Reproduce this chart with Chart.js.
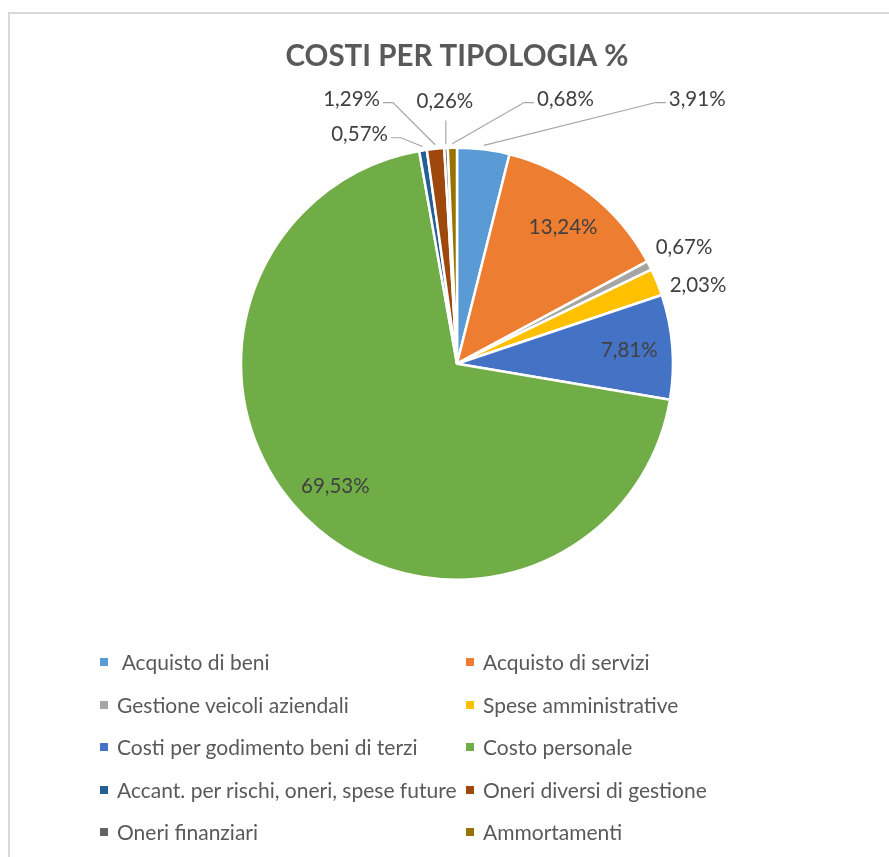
<!DOCTYPE html>
<html>
<head>
<meta charset="utf-8">
<script src="https://cdn.jsdelivr.net/npm/chart.js@4.4.1/dist/chart.umd.min.js"></script>
<style>
  html, body { margin: 0; padding: 0; background: #fff; overflow: hidden; }
  #wrap { position: relative; width: 889px; height: 857px; }
  #frame { position: absolute; left: 8px; top: 12px; width: 900px; height: 900px;
           border-left: 2px solid #d9d9d9; border-top: 2px solid #d9d9d9; }
  #pie { position: absolute; left: 0; top: 0; }
  #legend { position: absolute; left: 0; top: 641px; width: 889px;
            font-family: Lato, "Open Sans", sans-serif; font-size: 21px; color: #595959; }
  .item { position: absolute; height: 42px; line-height: 42px; white-space: nowrap; }
  .item i { position: absolute; top: 17px; width: 8px; height: 8px; }
  .item span { position: absolute; left: 17px; }
</style>
</head>
<body>
<div id="wrap">
  <div id="frame"></div>
  <canvas id="pie" width="889" height="857"></canvas>
  <div id="legend"></div>
</div>
<script>
  'use strict';

  var categories = [
    ' Acquisto di beni',
    'Acquisto di servizi',
    'Gestione veicoli aziendali',
    'Spese amministrative',
    'Costi per godimento beni di terzi',
    'Costo personale',
    'Accant. per rischi, oneri, spese future',
    'Oneri diversi di gestione',
    'Oneri finanziari',
    'Ammortamenti'
  ];
  var percents = [3.91, 13.24, 0.67, 2.03, 7.81, 69.53, 0.57, 1.29, 0.26, 0.68];
  var colors = ['#5B9BD5', '#ED7D31', '#A5A5A5', '#FFC000', '#4472C4',
                '#70AD47', '#255E91', '#9E480E', '#636363', '#997300'];

  // where the small slices put their label, in pie radii from the centre (null = inside)
  var labelSpots = [
    [1.112, -1.223], null, [1.051, -0.54], [1.116, -0.363], null,
    null, [-0.451, -1.06], [-0.488, -1.223], [-0.056, -1.214], [0.502, -1.223]
  ];

  function fmt(v) { return v.toFixed(2).replace('.', ',') + '%'; }

  var pieLabels = {
    id: 'pieLabels',
    afterDatasetsDraw: function (chart) {
      var ctx = chart.ctx;
      var arcs = chart.getDatasetMeta(0).data;
      ctx.save();
      ctx.font = '20.5px Lato, "Open Sans", sans-serif';
      ctx.textAlign = 'center';
      ctx.textBaseline = 'middle';
      arcs.forEach(function (arc, i) {
        var p = arc.getProps(['x', 'y', 'startAngle', 'endAngle', 'outerRadius'], true);
        var mid = (p.startAngle + p.endAngle) / 2;
        var r = p.outerRadius;
        var txt = fmt(percents[i]);
        var spot = labelSpots[i];
        var lx, ly;
        if (!spot) {
          lx = p.x + Math.cos(mid) * r * 0.8;
          ly = p.y + Math.sin(mid) * r * 0.8;
        } else {
          lx = p.x + spot[0] * r;
          ly = p.y + spot[1] * r;
          var w = ctx.measureText(txt).width;
          var left = lx - w / 2, right = lx + w / 2;
          var px = p.x + Math.cos(mid) * (r + 4);
          var py = p.y + Math.sin(mid) * (r + 4);
          var pts;
          if (px < left - 4) {
            pts = [[px, py], [left - 13, ly + 3], [left - 3, ly + 3]];
          } else if (px > right + 4) {
            pts = [[px, py], [right + 13, ly + 3], [right + 3, ly + 3]];
          } else {
            pts = [[px, py], [px, ly + 19]];
          }
          var last = pts[pts.length - 1];
          if (Math.hypot(last[0] - px, last[1] - py) > 20) {
            ctx.strokeStyle = '#a6a6a6';
            ctx.lineWidth = 1.2;
            ctx.beginPath();
            ctx.moveTo(pts[0][0], pts[0][1]);
            for (var k = 1; k < pts.length; k++) ctx.lineTo(pts[k][0], pts[k][1]);
            ctx.stroke();
          }
        }
        ctx.fillStyle = '#404040';
        ctx.fillText(txt, lx, ly);
      });
      ctx.restore();
    }
  };

  new Chart(document.getElementById('pie'), {
    type: 'pie',
    data: {
      labels: categories,
      datasets: [{
        data: percents,
        backgroundColor: colors,
        borderColor: '#ffffff',
        borderWidth: 2.5
      }]
    },
    options: {
      responsive: false,
      animation: false,
      events: [],
      radius: 216,
      layout: { padding: { left: 25, right: 0, top: 0, bottom: 204 } },
      plugins: {
        legend: { display: false },
        tooltip: { enabled: false },
        title: {
          display: true,
          text: 'COSTI PER TIPOLOGIA %',
          color: '#595959',
          font: { family: 'Lato, "Open Sans", sans-serif', size: 29.5, weight: 'bold' },
          padding: { top: 39, bottom: 0 }
        }
      }
    },
    plugins: [pieLabels]
  });

  // two-column legend like the spreadsheet one
  var legend = document.getElementById('legend');
  categories.forEach(function (name, i) {
    var col = i % 2, row = Math.floor(i / 2);
    var div = document.createElement('div');
    div.className = 'item';
    div.style.left = (col ? 466 : 100) + 'px';
    div.style.top = (row * 42.6) + 'px';
    div.innerHTML = '<i style="background:' + colors[i] + '"></i><span>' +
      name.replace(/^ /, '&nbsp;') + '</span>';
    legend.appendChild(div);
  });
</script>
</body>
</html>
